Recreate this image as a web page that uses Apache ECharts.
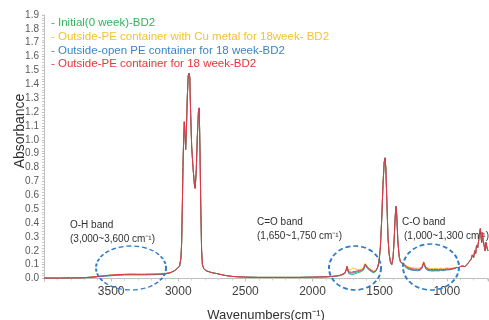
<!DOCTYPE html>
<html>
<head>
<meta charset="utf-8">
<script src="https://cdn.jsdelivr.net/npm/echarts@6/dist/echarts.min.js"></script>
<style>html,body{margin:0;padding:0;background:#fff;}#c{width:489px;height:320px;}</style>
</head>
<body>
<div id="c"></div>
<script>
// Wavenumbers (cm-1)
var wavenumbers = [4000,3900,3800,3700,3650,3600,3550,3500,3450,3400,3350,3300,3250,3200,3150,3100,3060,3030,3010,3000,2990,2980,2975,2970,2965,2960,2955,2950,2945,2940,2933,2926,2920,2914,2908,2900,2890,2880,2874,2866,2858,2850,2844,2838,2832,2826,2820,2810,2790,2760,2740,2726,2710,2680,2650,2600,2550,2500,2400,2300,2200,2100,2000,1900,1850,1800,1780,1760,1750,1743,1738,1730,1720,1710,1700,1690,1680,1665,1650,1635,1620,1608,1600,1590,1575,1560,1545,1530,1515,1505,1495,1485,1475,1466,1460,1454,1446,1438,1430,1420,1410,1400,1392,1384,1378,1372,1365,1355,1345,1331,1315,1300,1280,1260,1240,1220,1200,1185,1172,1165,1155,1140,1120,1100,1080,1060,1045,1030,1015,1000,985,970,955,940,925,910,895,880,865,850,838,828,818,810,800,792,785,778,770,762,755,750,745,740,735,730,722,715,708,700,693];

var initial0week = [.003,.003,.004,.006,.010,.014,.019,.024,.027,.029,.030,.030,.030,.031,.032,.035,.042,.055,.070,.075,.09,.15,.25,.5,.8,1.0,1.13,1.05,.93,1.05,1.3,1.46,1.48,1.45,1.2,.95,.8,.68,.65,.78,1.02,1.2,1.23,.92,.5,.2,.1,.07,.055,.045,.04,.042,.035,.028,.022,.015,.012,.01,.008,.008,.008,.008,.01,.012,.015,.020,.026,.035,.048,.080,.058,.035,.030,.028,.030,.032,.035,.040,.045,.050,.060,.095,.085,.070,.058,.048,.042,.050,.080,.12,.22,.42,.68,.84,.87,.80,.55,.30,.18,.12,.10,.15,.28,.45,.52,.45,.28,.16,.12,.12,.095,.08,.07,.065,.062,.06,.062,.075,.112,.092,.07,.062,.06,.058,.06,.058,.063,.06,.062,.066,.065,.067,.07,.074,.08,.078,.088,.09,.085,.1,.115,.11,.14,.17,.15,.2,.18,.24,.22,.28,.33,.36,.3,.26,.33,.28,.24,.2,.26,.22,.2];

var outsideCuMetal = [.003,.003,.004,.006,.010,.015,.020,.025,.028,.030,.031,.030,.030,.031,.032,.035,.042,.055,.070,.075,.09,.15,.25,.5,.8,1.0,1.13,1.05,.93,1.05,1.3,1.46,1.48,1.45,1.2,.95,.8,.68,.65,.78,1.02,1.2,1.23,.92,.5,.2,.1,.07,.055,.045,.04,.042,.035,.028,.022,.015,.012,.01,.008,.008,.008,.008,.01,.012,.015,.022,.030,.040,.052,.085,.068,.055,.062,.070,.075,.072,.068,.065,.066,.068,.078,.108,.100,.085,.072,.062,.052,.058,.080,.12,.22,.42,.68,.84,.87,.80,.55,.30,.18,.12,.10,.15,.28,.45,.52,.45,.28,.16,.12,.12,.105,.09,.082,.078,.076,.075,.076,.086,.118,.10,.082,.075,.072,.072,.074,.070,.075,.072,.074,.076,.074,.075,.076,.078,.08,.078,.088,.09,.085,.1,.115,.11,.14,.17,.15,.2,.18,.24,.22,.28,.33,.36,.3,.26,.33,.28,.24,.2,.26,.22,.2];

var outsideOpenPE = [.003,.003,.004,.005,.008,.012,.016,.020,.023,.025,.026,.026,.026,.027,.028,.031,.040,.055,.070,.075,.09,.15,.25,.5,.8,1.0,1.13,1.05,.93,1.05,1.3,1.46,1.48,1.45,1.2,.95,.8,.68,.65,.78,1.02,1.2,1.23,.92,.5,.2,.1,.07,.055,.045,.04,.042,.035,.028,.022,.015,.012,.01,.008,.008,.008,.008,.01,.012,.015,.020,.027,.036,.050,.085,.062,.040,.036,.038,.040,.042,.045,.048,.052,.056,.066,.098,.090,.075,.062,.052,.045,.052,.080,.12,.22,.42,.68,.84,.87,.80,.55,.30,.18,.12,.10,.15,.28,.45,.52,.45,.28,.16,.12,.12,.09,.075,.065,.06,.058,.056,.058,.072,.11,.09,.068,.058,.055,.054,.056,.054,.06,.056,.058,.062,.062,.064,.068,.072,.078,.078,.088,.09,.085,.1,.115,.11,.14,.17,.15,.2,.18,.24,.22,.28,.33,.36,.3,.26,.33,.28,.24,.2,.26,.22,.2];

var outsidePE = [.003,.003,.004,.006,.010,.015,.020,.025,.028,.030,.031,.030,.030,.031,.032,.035,.042,.055,.070,.075,.09,.15,.25,.5,.8,1.0,1.13,1.05,.93,1.05,1.3,1.46,1.48,1.45,1.2,.95,.8,.68,.65,.78,1.02,1.2,1.23,.92,.5,.2,.1,.07,.055,.045,.04,.042,.035,.028,.022,.015,.012,.01,.008,.008,.008,.008,.01,.012,.015,.022,.030,.040,.055,.090,.070,.048,.042,.045,.048,.050,.052,.055,.058,.062,.072,.105,.095,.080,.068,.058,.048,.055,.080,.12,.22,.42,.68,.84,.87,.80,.55,.30,.18,.12,.10,.15,.28,.45,.52,.45,.28,.16,.12,.12,.10,.085,.075,.07,.068,.066,.068,.08,.12,.10,.078,.068,.065,.064,.066,.062,.068,.064,.066,.07,.068,.07,.072,.075,.08,.078,.088,.09,.085,.1,.115,.11,.14,.17,.15,.2,.18,.24,.22,.28,.33,.36,.3,.26,.33,.28,.24,.2,.26,.22,.2];

var seriesNames = ['- Initial(0 week)-BD2','- Outside-PE container with Cu metal for 18week- BD2','- Outside-open PE container for 18 week-BD2','- Outside-PE container for 18 week-BD2'];
var seriesColors = ['#2fb55a','#f4c234','#3d84c6','#e8353d'];

function pairs(vals){ return wavenumbers.map(function(w,i){ return [w, vals[i]]; }); }
var allVals = [initial0week, outsideCuMetal, outsideOpenPE, outsidePE];
var order = [0,2,1,3];

var chart = echarts.init(document.getElementById('c'), null, {renderer:'canvas'});
var FONT = 'Liberation Sans';
var series = order.map(function(k){
  return {type:'line', name:seriesNames[k], data:pairs(allVals[k]), showSymbol:false, symbol:'none',
    lineStyle:{color:seriesColors[k], width:1}, itemStyle:{color:seriesColors[k]}, animation:false, z:2+k};
});

function ell(cx,cy,rx,ry){
  return {type:'circle', x:cx, y:cy, scaleY:ry/rx, shape:{cx:0,cy:0,r:rx}, z:100,
    style:{fill:null, stroke:'#2f7dc9', lineWidth:2, lineDash:[5,3], strokeNoScale:true}};
}
function txt(x,y,t,color,size){
  return {type:'text', x:x, y:y, z:100, style:{text:t, fill:color, font:(size||11)+'px "'+FONT+'"', textVerticalAlign:'middle'}};
}

chart.setOption({
  animation:false,
  grid:{left:44, right:1, top:15, bottom:41.5, containLabel:false, outerBoundsMode:'none'},
  xAxis:{type:'value', inverse:true, min:693, max:4000,
    axisLine:{lineStyle:{color:'#bfbfbf'}},
    axisTick:{show:true, length:3, lineStyle:{color:'#bfbfbf'}},
    minorTick:{show:true, splitNumber:5, length:2, lineStyle:{color:'#d0d0d0'}},
    splitLine:{show:false},
    axisLabel:{color:'#404040', fontSize:12, fontFamily:FONT, margin:7,
      formatter:function(v){ return (v%500===0 && v<4000) ? String(v) : ''; }},
    name:'Wavenumbers(cm⁻¹)', nameLocation:'middle', nameGap:30,
    nameTextStyle:{color:'#303030', fontSize:13, fontFamily:FONT}},
  yAxis:{type:'value', min:0, max:1.9, interval:0.1,
    axisLine:{show:true, lineStyle:{color:'#bfbfbf'}},
    axisTick:{show:true, length:2, lineStyle:{color:'#bfbfbf'}},
    minorTick:{show:true, splitNumber:5, length:2, lineStyle:{color:'#c8c8c8'}},
    splitLine:{show:false},
    axisLabel:{color:'#595959', fontSize:10, fontFamily:FONT, margin:5,
      formatter:function(v){ return v.toFixed(1); }}},
  series:series,
  graphic:[
    txt(51,23,seriesNames[0],seriesColors[0],11.5),
    txt(51,37,seriesNames[1],seriesColors[1],11.5),
    txt(51,51,seriesNames[2],seriesColors[2],11.5),
    txt(51,64,seriesNames[3],seriesColors[3],11.5),
    {type:'text', x:20, y:131, rotation:Math.PI/2, z:100,
      style:{text:'Absorbance', fill:'#303030', font:'14px "'+FONT+'"', textAlign:'center', textVerticalAlign:'middle'}},
    txt(70,225,'O-H band','#303030',10),
    txt(70,239,'(3,000~3,600 cm⁻¹)','#303030',10),
    txt(257,222,'C=O band','#303030',10),
    txt(257,236,'(1,650~1,750 cm⁻¹)','#303030',10),
    txt(402,222,'C-O band','#303030',10),
    txt(404,236,'(1,000~1,300 cm⁻¹)','#303030',10),
    ell(131,268,35,22),
    ell(355,268,26,22),
    ell(431,267,28,23)
  ]
});
</script>
</body>
</html>
